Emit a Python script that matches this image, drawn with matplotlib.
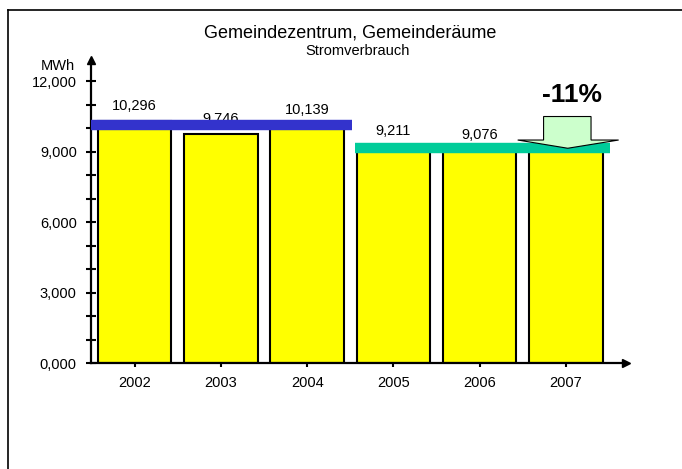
import matplotlib.pyplot as plt
import numpy as np
from matplotlib.lines import Line2D
from matplotlib.patches import Polygon

plt.rcParams['font.family'] = ['Liberation Sans', 'DejaVu Sans']

years = ['2002', '2003', '2004', '2005', '2006', '2007']
values = [10.296, 9.746, 10.139, 9.211, 9.076, 9.150]   # MWh (Tsd.)
old_idx = [0, 1, 2]
new_idx = [3, 4, 5]

title = 'Gemeindezentrum, Gemeinderäume'
subtitle = 'Stromverbrauch'


def fmt(v):
    return f'{v:.3f}'.replace('.', ',')


fig = plt.figure(figsize=(6.82, 4.69), dpi=100)
ax = fig.add_axes([0.134, 0.2254, 0.7845, 0.6467])

x = np.arange(len(years))
ax.bar(x, values, width=0.85, color='#ffff00', edgecolor='black',
       linewidth=1.5, zorder=2)

# Werte über den Balken
for xi, v in zip(x, values):
    ax.annotate(fmt(v), (xi, v), xytext=(0, 6), textcoords='offset points',
                ha='center', va='bottom', fontsize=10.5, zorder=3)

# Mittelwerte als Balken
avg_old = np.mean([values[i] for i in old_idx])
avg_new = np.mean([values[i] for i in new_idx])
ax.plot([old_idx[0] - 0.55, old_idx[-1] + 0.52], [avg_old + 0.08] * 2,
        color='#3333cc', lw=7.5, solid_capstyle='butt', zorder=4)
ax.plot([new_idx[0] - 0.445, new_idx[-1] + 0.51], [avg_new] * 2,
        color='#00cc99', lw=7.5, solid_capstyle='butt', zorder=4)

# Blockpfeil mit Veränderung
change = values[-1] / values[0] - 1
xt = x[-1]
tip = avg_new
base = tip + 0.35
top = tip + 1.35
arrow = Polygon([(xt - 0.26, top), (xt + 0.29, top), (xt + 0.29, base),
                 (xt + 0.61, base), (xt + 0.02, tip), (xt - 0.56, base),
                 (xt - 0.26, base)],
                closed=True, facecolor='#ccffcc', edgecolor='black',
                lw=0.8, zorder=5)
ax.add_patch(arrow)
ax.text(xt + 0.07, top + 0.4, f'{change * 100:.0f}%', ha='center',
        va='bottom', fontsize=19, fontweight='bold', zorder=6)

# Achsen
ax.set_xlim(-0.5, 5.7)
ax.set_ylim(0, 12.9)
for s in ['top', 'right']:
    ax.spines[s].set_visible(False)
for s in ['left', 'bottom']:
    ax.spines[s].set_linewidth(1.6)
ax.plot(1, 0, '>', color='black', ms=6, transform=ax.transAxes,
        clip_on=False, zorder=7)
ax.plot(0, 1, '^', color='black', ms=6, transform=ax.transAxes,
        clip_on=False, zorder=7)

ax.set_xticks(x)
ax.set_xticklabels(years, fontsize=10.5)
ax.tick_params(axis='x', direction='out', length=3, width=1.5, pad=6)

ax.set_yticks([0, 3, 6, 9, 12])
ax.set_yticklabels([fmt(v) for v in [0, 3, 6, 9, 12]], fontsize=10.5)
ax.set_yticks(np.arange(0, 13, 1), minor=True)
ax.tick_params(axis='y', which='both', direction='inout', length=7,
               width=1.5, pad=7)
ax.text(-0.03, 0.98, 'MWh', transform=ax.transAxes, ha='right', va='center',
        fontsize=10.5)

fig.text(350 / 682, 1 - 32.5 / 469, title, ha='center', va='center',
         fontsize=13)
fig.text(358 / 682, 1 - 51 / 469, subtitle, ha='center', va='center',
         fontsize=10.5)

# Rahmen (nur oben und links sichtbar)
fig.add_artist(Line2D([8 / 682, 8 / 682], [0, 1 - 10 / 469],
                      color='black', lw=1.2, transform=fig.transFigure))
fig.add_artist(Line2D([8 / 682, 1], [1 - 10 / 469, 1 - 10 / 469],
                      color='black', lw=1.2, transform=fig.transFigure))

plt.savefig('out.png', dpi=100)
